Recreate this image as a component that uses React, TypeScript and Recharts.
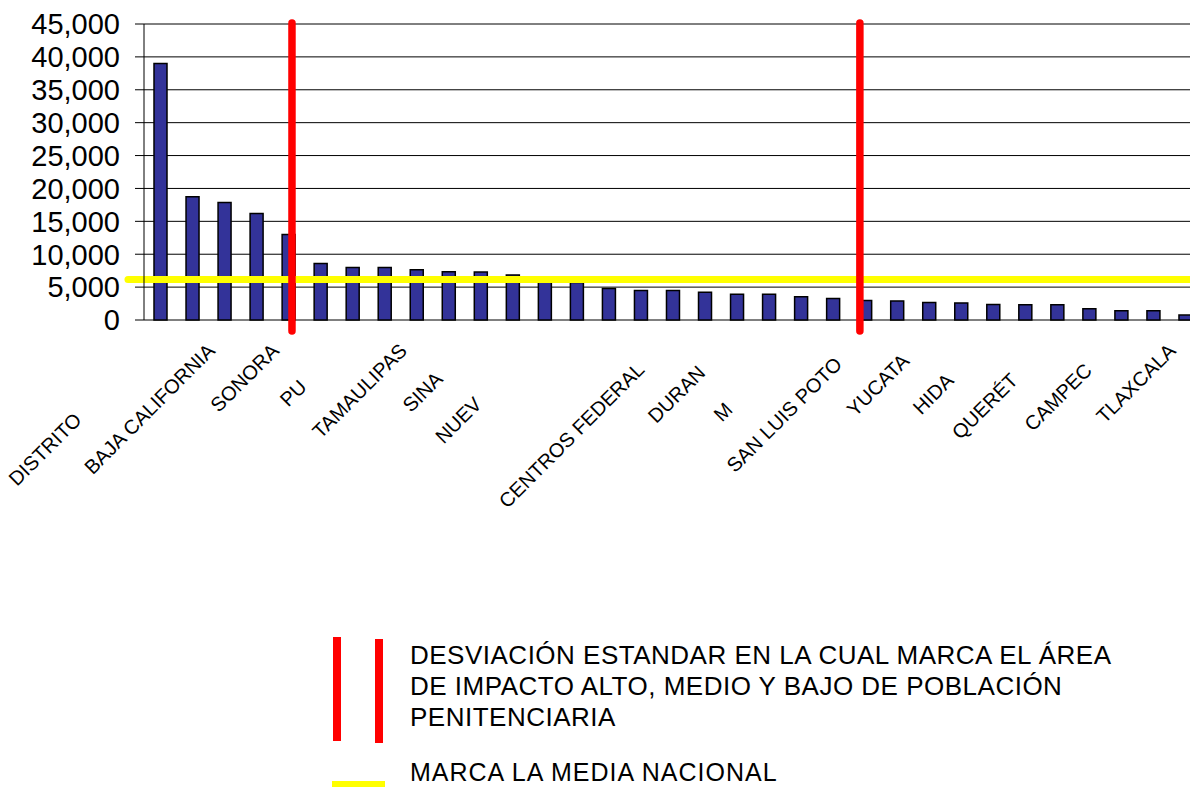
import React from "react";
import {
  BarChart,
  Bar,
  XAxis,
  YAxis,
  CartesianGrid,
  ReferenceLine,
} from "recharts";

// population by state, sorted high -> low
const categories = [
  "DISTRITO FEDERAL",
  "MÉXICO",
  "BAJA CALIFORNIA",
  "JALISCO",
  "SONORA",
  "CHIAPAS",
  "PUEBLA",
  "VERACRUZ",
  "TAMAULIPAS",
  "MICHOACÁN",
  "SINALOA",
  "GUERRERO",
  "NUEVO LEÓN",
  "OAXACA",
  "CHIHUAHUA",
  "GUANAJUATO",
  "CENTROS FEDERALES",
  "COAHUILA",
  "DURANGO",
  "QUINTANA ROO",
  "MORELOS",
  "TABASCO",
  "SAN LUIS POTOSÍ",
  "NAYARIT",
  "YUCATÁN",
  "ZACATECAS",
  "HIDALGO",
  "AGUASCALIENTES",
  "QUERÉTARO",
  "COLIMA",
  "CAMPECHE",
  "BAJA CALIFORNIA SUR",
  "TLAXCALA",
];

const values = [
  39000, 18750, 17850, 16200, 13000, 8600, 8000, 8000, 7650, 7350, 7300,
  6850, 5800, 5700, 4800, 4500, 4480, 4200, 3900, 3900, 3550, 3250, 2950,
  2900, 2650, 2600, 2350, 2300, 2300, 1700, 1400, 1400, 750,
];

// what is actually readable under each tick in the original (labels are cut off)
const tickLabels = [
  "DISTRITO", "", "BAJA CALIFORNIA", "", "SONORA", "", "PU", "", "TAMAULIPAS",
  "", "SINA", "", "NUEV", "", "", "", "CENTROS FEDERAL", "", "DURAN", "", "M",
  "", "SAN LUIS POTO", "", "YUCATA", "", "HIDA", "", "QUERÉT", "", "CAMPEC",
  "", "TLAXCALA",
];

const yTicks = [0, 5000, 10000, 15000, 20000, 25000, 30000, 35000, 40000, 45000];

const mediaNacional = 6150;
// positions of the std-deviation markers, in category units
const desviaciones = [4.62, 22.35];

const legendDesviacion = [
  "DESVIACIÓN ESTANDAR EN LA CUAL MARCA EL ÁREA",
  "DE IMPACTO ALTO, MEDIO Y BAJO DE POBLACIÓN",
  "PENITENCIARIA",
];
const legendMedia = "MARCA LA MEDIA NACIONAL";

// slot = category centre on the numeric helper axis
const data = categories.map((name, i) => ({ name, value: values[i], slot: i + 0.5 }));
const boundaries = [...categories.map((_, i) => i), categories.length];

const FONT = "'Liberation Sans', Arial, sans-serif";

const CategoryTick = (props: any) => {
  const { x, y, payload } = props;
  const i = categories.indexOf(payload.value);
  const shown = tickLabels[i] ?? "";
  if (!shown) return <g />;
  const rest = payload.value.slice(shown.length);
  const ax = x - 8;
  const ay = y + 32;
  return (
    <text
      x={ax}
      y={ay}
      transform={`rotate(-45 ${ax} ${ay})`}
      textAnchor="end"
      fontSize={20}
      fontFamily={FONT}
      fill="#000"
    >
      <tspan>{shown}</tspan>
      {rest && <tspan fillOpacity={0}>{rest}</tspan>}
    </text>
  );
};

const App = () => {
  return (
    <div
      style={{
        position: "absolute",
        left: 0,
        top: 0,
        width: 1190,
        height: 787,
        overflow: "hidden",
        background: "#fff",
      }}
    >
      <BarChart
        width={1210}
        height={600}
        data={data}
        margin={{ top: 24, right: 9, left: 0, bottom: 0 }}
      >
        <CartesianGrid vertical={false} stroke="#000" />

        {/* numeric axis only for tick marks between categories and marker lines */}
        <XAxis
          xAxisId={0}
          dataKey="slot"
          type="number"
          domain={[0, categories.length]}
          allowDataOverflow
          ticks={boundaries}
          interval={0}
          height={0}
          tickSize={7}
          tick={() => <g />}
          axisLine={{ stroke: "#808080" }}
          tickLine={{ stroke: "#808080" }}
        />
        <XAxis
          xAxisId="cat"
          dataKey="name"
          height={280}
          interval={0}
          tickLine={false}
          axisLine={false}
          tickSize={0}
          tickMargin={0}
          tick={<CategoryTick />}
        />

        <YAxis
          width={144}
          domain={[0, 45000]}
          ticks={yTicks}
          interval={0}
          tickSize={9}
          tickMargin={15}
          axisLine={{ stroke: "#000" }}
          tickLine={{ stroke: "#000" }}
          tick={{ fill: "#000", fontSize: 29, fontFamily: FONT }}
          tickFormatter={(v) => v.toLocaleString("en-US")}
        />

        <Bar
          xAxisId="cat"
          dataKey="value"
          fill="#333399"
          stroke="#000"
          strokeWidth={1.5}
          barSize={13}
          isAnimationActive={false}
        />

        <ReferenceLine
          segment={[
            { x: -0.5, y: mediaNacional },
            { x: categories.length, y: mediaNacional },
          ]}
          stroke="#FFFF00"
          strokeWidth={7}
          strokeLinecap="round"
          ifOverflow="visible"
        />
        {desviaciones.map((d) => (
          <ReferenceLine
            key={d}
            segment={[
              { x: d, y: -1670 },
              { x: d, y: 45150 },
            ]}
            stroke="#FF0000"
            strokeWidth={7.5}
            strokeLinecap="round"
            ifOverflow="visible"
          />
        ))}
      </BarChart>

      <svg
        width={1190}
        height={787}
        style={{ position: "absolute", left: 0, top: 0, pointerEvents: "none" }}
      >
        <rect x={333} y={637} width={8} height={104} fill="#FF0000" />
        <rect x={375} y={639} width={8} height={104} fill="#FF0000" />
        {legendDesviacion.map((line, i) => (
          <text
            key={line}
            x={410}
            y={664 + i * 31}
            fontSize={26}
            letterSpacing={0.5}
            fontFamily={FONT}
            fill="#000"
          >
            {line}
          </text>
        ))}
        <rect x={332} y={781} width={53} height={8} fill="#FFFF00" />
        <text
          x={410}
          y={781}
          fontSize={25}
          letterSpacing={1}
          fontFamily={FONT}
          fill="#000"
        >
          {legendMedia}
        </text>
      </svg>
    </div>
  );
};

export default App;
